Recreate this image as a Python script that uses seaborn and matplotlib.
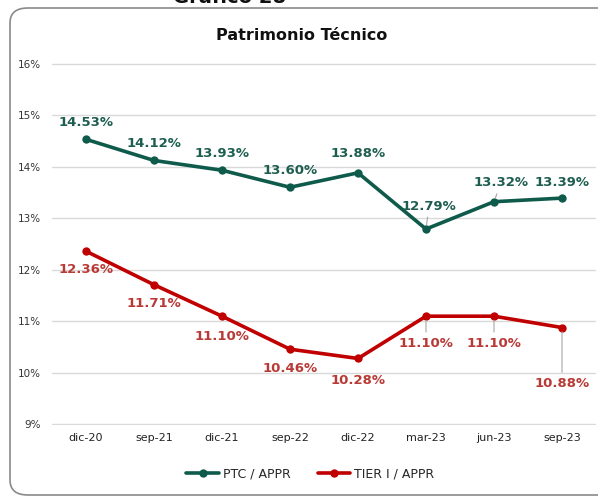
import pandas as pd
import matplotlib.pyplot as plt
import seaborn as sns
from matplotlib.patches import FancyBboxPatch

# Data
periods = ["dic-20", "sep-21", "dic-21", "sep-22", "dic-22", "mar-23", "jun-23", "sep-23"]
ptc_appr = [14.53, 14.12, 13.93, 13.60, 13.88, 12.79, 13.32, 13.39]
tier1_appr = [12.36, 11.71, 11.10, 10.46, 10.28, 11.10, 11.10, 10.88]
series_names = ["PTC / APPR", "TIER I / APPR"]

df = pd.DataFrame({
    "periodo": periods * 2,
    "valor": ptc_appr + tier1_appr,
    "serie": [series_names[0]] * len(periods) + [series_names[1]] * len(periods),
})

green = "#0F5B4B"
red = "#C00000"
green_lbl = "#1E5E50"
red_lbl = "#B83A36"

sns.set_theme(style="white")
plt.rcParams["font.family"] = ["DejaVu Sans"]

fig = plt.figure(figsize=(5.98, 4.97), dpi=100)
ax = fig.add_axes([52 / 598, 72 / 497, 544 / 598, 362 / 497])

# rounded frame around the chart
frame = FancyBboxPatch((10 / 598, 2 / 497), 1.2, 487 / 497,
                       boxstyle="round,pad=0,rounding_size=0.03",
                       transform=fig.transFigure, facecolor="none",
                       edgecolor="#8a8a8a", linewidth=1.2, zorder=0)
fig.patches.append(frame)

sns.lineplot(data=df, x="periodo", y="valor", hue="serie",
             palette=[green, red], marker="o", markersize=6,
             markeredgewidth=0, linewidth=2.6, sort=False, ax=ax)

ax.set_xlim(-0.5, len(periods) - 0.5)
ax.set_ylim(8.99, 16.01)
ax.set_yticks(range(9, 17))
ax.set_yticklabels([f"{v}%" for v in range(9, 17)], fontsize=7.5, color="#333333")
ax.tick_params(axis="x", labelsize=8, colors="#222222", pad=6, length=0)
ax.tick_params(axis="y", pad=8, length=0)
ax.grid(axis="y", color="#d9d9d9", linewidth=1)
ax.grid(axis="x", visible=False)
for s in ax.spines.values():
    s.set_visible(False)
ax.set_xlabel("")
ax.set_ylabel("")

# data labels: offsets in pixels, leader line where the label sits far away
ptc_offsets = [(0, 17), (0, 17), (0, 17), (0, 17), (0, 19), (3, 23), (7, 19), (0, 16)]
ptc_leader = [False, False, False, False, False, True, True, False]
tier_offsets = [(0, -18), (0, -19), (0, -20), (0, -19), (0, -22), (0, -27), (0, -27), (0, -56)]
tier_leader = [False, False, False, False, False, True, True, True]

for vals, offs, leads, col in [(ptc_appr, ptc_offsets, ptc_leader, green_lbl),
                               (tier1_appr, tier_offsets, tier_leader, red_lbl)]:
    for i, (v, off, lead) in enumerate(zip(vals, offs, leads)):
        ax.annotate(f"{v:.2f}%", xy=(i, v), xytext=off, textcoords="offset pixels",
                    ha="center", va="center", fontsize=9.5, fontweight="bold", color=col,
                    arrowprops=dict(arrowstyle="-", color="#a6a6a6", lw=0.8,
                                    shrinkA=1, shrinkB=3) if lead else None)

ax.legend(loc="upper center", bbox_to_anchor=(0.475, -0.085), ncol=2, frameon=False,
          fontsize=9, handlelength=2.6, columnspacing=2.2, handletextpad=0.3)

fig.text(302 / 598, 1 - 35 / 497, "Patrimonio Técnico", ha="center", va="center",
         fontsize=11.5, fontweight="bold", color="#111111")
fig.text(230 / 598, 1 - 3 / 497, "Gráfico 28", ha="center", va="baseline",
         fontsize=14, fontweight="bold", color="#111111")

fig.savefig("out.png", dpi=100)
